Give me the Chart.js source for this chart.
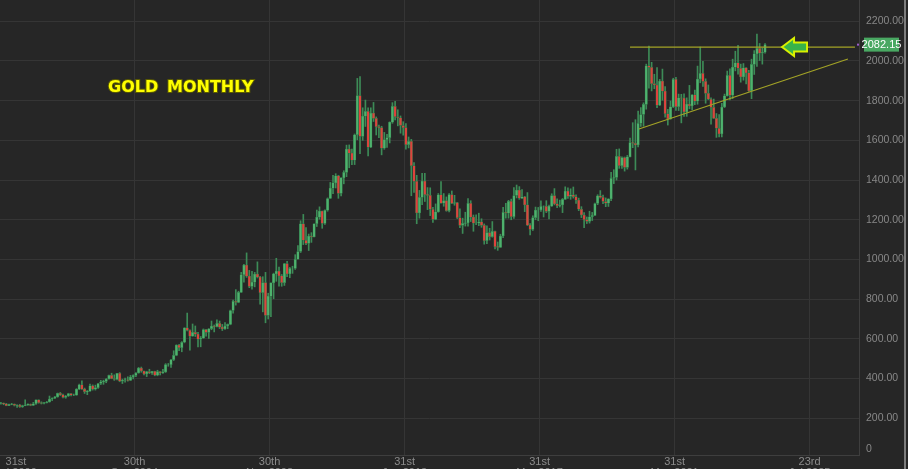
<!DOCTYPE html>
<html lang="en">
<head>
  <meta charset="UTF-8">
  <title>Gold Monthly</title>
  <script src="https://cdn.jsdelivr.net/npm/chart.js"></script>
  <style>
    html, body { margin: 0; padding: 0; background: #262626; overflow: hidden; }
    canvas { display: block; }
  </style>
</head>
<body>
  <canvas id="goldChart" width="908" height="469"></canvas>
  <script>
    // monthly candles, Jul 2000 .. Mar 2024
    const firstYear = 2000, firstMonth = 7;
    const opens = [
      288,276,277,273,264,270,
      272,265,267,258,264,267,270,265,273,293,279,275,
      279,282,297,302,308,326,318,305,312,324,317,317,
      347,368,347,334,337,364,346,354,375,384,386,398,
      416,400,396,427,387,393,394,391,408,416,428,453,
      438,423,435,428,436,417,435,429,433,470,470,495,
      517,569,556,583,655,643,613,633,624,599,604,647,
      632,651,665,662,678,659,650,665,673,743,789,783,
      834,923,972,916,864,886,926,911,833,884,718,815,
      882,927,942,917,883,979,927,955,955,1001,1040,1180,
      1097,1081,1118,1113,1180,1213,1244,1181,1248,1307,1359,1386,
      1421,1333,1411,1439,1556,1536,1500,1628,1826,1620,1722,1746,
      1566,1737,1711,1669,1664,1561,1604,1614,1692,1772,1719,1714,
      1675,1664,1578,1595,1472,1393,1234,1313,1395,1327,1323,1253,
      1202,1240,1326,1284,1296,1246,1327,1282,1287,1210,1171,1182,
      1184,1283,1213,1183,1183,1190,1172,1095,1135,1115,1142,1065,
      1061,1118,1238,1233,1293,1215,1322,1350,1309,1316,1275,1173,
      1151,1211,1249,1249,1268,1268,1242,1269,1322,1280,1271,1275,
      1303,1345,1318,1325,1316,1299,1253,1224,1201,1192,1215,1222,
      1282,1321,1313,1292,1284,1305,1409,1413,1520,1472,1513,1464,
      1517,1589,1585,1577,1686,1730,1781,1975,1968,1886,1879,1777,
      1898,1848,1734,1708,1769,1907,1770,1814,1813,1743,1783,1774,
      1829,1797,1909,1937,1897,1837,1807,1766,1711,1661,1633,1768,
      1824,1928,1827,1969,1990,1963,1919,1965,1940,1849,1983,2036,
      2063,2039,2044
    ];
    const highs = [
      292,280,277,275,272,275,
      272,268,270,266,293,273,272,280,293,293,283,280,
      285,312,303,310,327,330,322,315,326,324,322,349,
      372,389,352,340,372,368,367,376,391,392,400,417,
      427,419,427,430,397,403,409,416,419,430,456,458,
      438,437,447,437,437,442,435,447,475,476,497,540,
      570,572,586,656,730,645,675,665,633,612,650,648,
      652,690,670,696,690,673,682,675,745,795,848,840,
      935,976,1033,945,940,935,988,915,913,935,830,882,
      931,1006,962,924,980,990,960,966,1024,1070,1195,1227,
      1161,1128,1135,1180,1249,1265,1244,1250,1310,1388,1424,1432,
      1424,1412,1447,1576,1577,1556,1632,1912,1921,1764,1803,1764,
      1764,1791,1718,1677,1671,1640,1630,1693,1790,1796,1754,1723,
      1694,1684,1617,1605,1488,1424,1348,1434,1434,1362,1361,1262,
      1280,1332,1392,1332,1315,1332,1345,1323,1288,1255,1208,1238,
      1307,1296,1224,1225,1233,1205,1179,1170,1157,1191,1143,1088,
      1127,1263,1283,1298,1304,1362,1375,1367,1352,1318,1337,1181,
      1220,1264,1262,1295,1270,1296,1274,1331,1357,1306,1299,1307,
      1366,1361,1356,1365,1326,1309,1266,1236,1214,1243,1237,1284,
      1326,1347,1324,1310,1306,1439,1452,1555,1557,1517,1516,1524,
      1611,1689,1704,1748,1765,1789,1984,2075,1993,1933,1966,1907,
      1959,1871,1756,1798,1913,1917,1833,1832,1834,1814,1877,1831,
      1853,1974,2070,1998,1910,1879,1814,1808,1735,1730,1786,1833,
      1949,1960,2009,2049,2079,1984,1987,1966,1953,2009,2052,2135,
      2088,2065,2088
    ];
    const lows = [
      276,271,268,263,263,268,
      262,255,255,255,263,265,263,264,270,276,272,272,
      277,281,289,299,306,315,302,301,310,313,314,316,
      344,345,325,319,335,342,342,350,370,371,379,397,
      399,391,393,384,375,382,387,390,398,410,427,432,
      419,410,425,421,414,414,418,426,431,462,456,491,
      515,540,535,580,640,543,613,612,560,560,603,613,
      602,646,635,660,652,642,648,651,671,729,770,782,
      834,885,910,858,850,862,907,775,736,681,700,712,
      802,890,866,865,869,913,908,930,950,1001,1035,1075,
      1075,1045,1086,1113,1166,1203,1157,1176,1243,1307,1331,1360,
      1308,1320,1381,1417,1462,1478,1478,1603,1533,1600,1670,1522,
      1563,1695,1627,1613,1527,1555,1564,1587,1686,1703,1673,1636,
      1626,1555,1562,1321,1338,1180,1208,1276,1292,1251,1221,1187,
      1200,1238,1283,1268,1243,1240,1281,1273,1206,1160,1131,1168,
      1168,1191,1142,1175,1170,1162,1077,1080,1098,1112,1053,1046,
      1061,1110,1208,1208,1200,1207,1310,1303,1306,1241,1171,1123,
      1146,1200,1195,1242,1214,1236,1204,1267,1275,1261,1264,1236,
      1302,1307,1303,1309,1282,1246,1211,1160,1181,1183,1196,1221,
      1276,1309,1281,1266,1267,1296,1382,1400,1459,1459,1445,1455,
      1517,1563,1451,1567,1670,1671,1757,1863,1849,1860,1764,1775,
      1802,1717,1677,1706,1765,1751,1750,1688,1721,1721,1759,1753,
      1780,1782,1890,1872,1787,1805,1681,1710,1615,1617,1617,1765,
      1823,1804,1810,1950,1933,1893,1903,1884,1846,1810,1932,1973,
      2002,1984,2039
    ];
    const closes = [
      276,277,273,264,270,272,
      265,267,258,264,267,270,265,273,293,279,275,279,
      282,297,302,308,326,318,305,312,324,317,317,347,
      368,347,334,337,364,346,354,375,384,386,398,416,
      400,396,427,387,393,394,391,408,416,428,453,438,
      423,435,428,436,417,435,429,433,470,470,495,517,
      569,556,583,655,643,613,633,624,599,604,647,632,
      651,665,662,678,659,650,665,673,743,789,783,834,
      923,972,916,864,886,926,911,833,884,718,815,882,
      927,942,917,883,979,927,955,955,1001,1040,1180,1097,
      1081,1118,1113,1180,1213,1244,1181,1248,1307,1359,1386,1421,
      1333,1411,1439,1556,1536,1500,1628,1826,1620,1722,1746,1566,
      1737,1711,1669,1664,1561,1604,1614,1692,1772,1719,1714,1675,
      1664,1578,1595,1472,1393,1234,1313,1395,1327,1323,1253,1202,
      1240,1326,1284,1296,1246,1327,1282,1287,1210,1171,1182,1184,
      1283,1213,1183,1183,1190,1172,1095,1135,1115,1142,1065,1061,
      1118,1238,1233,1293,1215,1322,1350,1309,1316,1275,1173,1151,
      1211,1249,1249,1268,1268,1242,1269,1322,1280,1271,1275,1303,
      1345,1318,1325,1316,1299,1253,1224,1201,1192,1215,1222,1282,
      1321,1313,1292,1284,1305,1409,1413,1520,1472,1513,1464,1517,
      1589,1585,1577,1686,1730,1781,1975,1968,1886,1879,1777,1898,
      1848,1734,1708,1769,1907,1770,1814,1813,1743,1783,1774,1829,
      1797,1909,1937,1897,1837,1807,1766,1711,1661,1633,1768,1824,
      1928,1827,1969,1990,1963,1919,1965,1940,1849,1983,2036,2063,
      2039,2044,2082.15
    ];
    const lastPrice = 2082.15;

    // x axis ticks (month index from Jan 2000) and their labels
    const tickPositions = [12.6, 56.5, 106.5, 156.5, 206.5, 256.5, 306.5];
    const tickLabels = [
      ['31st', 'Jul 2000'], ['30th', 'Sep 2004'], ['30th', 'Nov 2008'],
      ['31st', 'Jan 2013'], ['31st', 'Mar 2017'], ['31st', 'May 2021'],
      ['23rd', 'Jul 2025']
    ];
    const yTicks = [200, 400, 600, 800, 1000, 1200, 1400, 1600, 1800, 2000, 2200];

    // drawn trend lines (month index, price)
    const resistanceLine = [[240, 2070], [323.3, 2070]];
    const supportLine = [[243.3, 1657], [320.7, 2010]];
    const arrowPoint = [296.3, 2070];

    const xMin = 6.67, xMax = 324.8, yMin = 15, yMax = 2307;

    const startIdx = (firstYear - 2000) * 12 + (firstMonth - 1);
    const xs = closes.map((c, k) => startIdx + k);
    const isUp = closes.map((c, k) => c >= opens[k]);

    const wickData = xs.map((x, k) => ({ x: x, y: [lows[k], highs[k]] }));
    const bodyData = xs.map((x, k) => ({ x: x, y: [opens[k], closes[k]] }));

    const decorPlugin = {
      id: 'decor',
      beforeDraw(chart) {
        const ctx = chart.ctx;
        ctx.save();
        ctx.fillStyle = '#262626';
        ctx.fillRect(0, 0, chart.width, chart.height);
        ctx.restore();
      },
      afterDatasetsDraw(chart) {
        const ctx = chart.ctx;
        const xs_ = chart.scales.x, ys_ = chart.scales.y;
        // arrow pointing at the resistance line
        const ax = xs_.getPixelForValue(arrowPoint[0]);
        const ay = ys_.getPixelForValue(arrowPoint[1]);
        ctx.save();
        ctx.beginPath();
        ctx.moveTo(ax, ay);
        ctx.lineTo(ax + 12, ay - 9);
        ctx.lineTo(ax + 12, ay - 4.5);
        ctx.lineTo(ax + 25, ay - 4.5);
        ctx.lineTo(ax + 25, ay + 4.5);
        ctx.lineTo(ax + 12, ay + 4.5);
        ctx.lineTo(ax + 12, ay + 9);
        ctx.closePath();
        ctx.fillStyle = '#38b34a';
        ctx.fill();
        ctx.lineWidth = 2;
        ctx.strokeStyle = '#d8f000';
        ctx.lineJoin = 'miter';
        ctx.stroke();
        ctx.restore();

        // title
        ctx.save();
        ctx.font = 'bold 16px "DejaVu Sans"';
        ctx.textBaseline = 'middle';
        ctx.lineWidth = 2;
        ctx.strokeStyle = '#5c5c00';
        ctx.fillStyle = '#ffff00';
        ctx.strokeText('GOLD', 108, 88);
        ctx.fillText('GOLD', 108, 88);
        ctx.strokeText('MONTHLY', 167, 88);
        ctx.fillText('MONTHLY', 167, 88);
        ctx.restore();
      },
      afterDraw(chart) {
        const ctx = chart.ctx;
        const area = chart.chartArea;
        const py = chart.scales.y.getPixelForValue(lastPrice);
        ctx.save();
        ctx.fillStyle = '#9a5cc8';
        ctx.fillRect(area.right - 2, py - 1, 2, 2);
        ctx.fillStyle = '#49a862';
        ctx.fillRect(area.right + 5, py - 7, 35, 14);
        ctx.fillStyle = '#ffffff';
        ctx.font = '11px "Liberation Sans"';
        ctx.textAlign = 'center';
        ctx.textBaseline = 'middle';
        ctx.fillText(lastPrice.toFixed(2), area.right + 22.5, py + 0.5);
        // window edge strip on the right
        ctx.fillStyle = '#7d7d7d';
        ctx.fillRect(904, 0, 2, chart.height);
        ctx.restore();
      }
    };

    new Chart(document.getElementById('goldChart'), {
      type: 'bar',
      data: {
        datasets: [
          {
            type: 'line',
            label: 'Resistance',
            data: resistanceLine.map(p => ({ x: p[0], y: p[1] })),
            borderColor: '#a3a326',
            borderWidth: 1.2,
            pointRadius: 0,
            order: 0
          },
          {
            type: 'line',
            label: 'Support',
            data: supportLine.map(p => ({ x: p[0], y: p[1] })),
            borderColor: '#a3a326',
            borderWidth: 1.2,
            pointRadius: 0,
            order: 0
          },
          {
            label: 'Body',
            data: bodyData,
            backgroundColor: isUp.map(u => u ? '#4fb26e' : '#de433d'),
            borderColor: '#2f7446',
            borderWidth: 0.5,
            borderSkipped: false,
            barThickness: 2.5,
            grouped: false,
            order: 1
          },
          {
            label: 'Wick',
            data: wickData,
            backgroundColor: '#3d8b57',
            borderWidth: 0,
            barThickness: 1,
            grouped: false,
            order: 2
          }
        ]
      },
      options: {
        responsive: false,
        animation: false,
        events: [],
        layout: { padding: 0 },
        plugins: {
          legend: { display: false },
          tooltip: { enabled: false }
        },
        scales: {
          x: {
            type: 'linear',
            min: xMin,
            max: xMax,
            offset: false,
            afterBuildTicks: (scale) => {
              scale.ticks = tickPositions.map(v => ({ value: v }));
            },
            afterFit: (scale) => {
              scale.height = 14;
              scale.paddingLeft = 0;
              scale.paddingRight = 0;
            },
            ticks: {
              autoSkip: false,
              maxRotation: 0,
              padding: 1,
              color: '#8c8c8c',
              font: { family: 'Liberation Sans', size: 11, lineHeight: 1.0 },
              callback: (v, i) => tickLabels[i]
            },
            grid: {
              offset: false,
              color: (c) => c.index === 0 ? 'rgba(0,0,0,0)' : '#353535',
              drawTicks: false
            },
            border: { color: '#3e3e3e' }
          },
          y: {
            position: 'right',
            min: yMin,
            max: yMax,
            afterBuildTicks: (scale) => {
              scale.ticks = [{ value: yMin + 30 }].concat(yTicks.map(v => ({ value: v })));
            },
            afterFit: (scale) => {
              scale.width = 49;
              scale.paddingTop = 0;
              scale.paddingBottom = 0;
            },
            ticks: {
              padding: 7,
              color: '#888888',
              font: { family: 'Liberation Sans', size: 10.5 },
              callback: (v) => v < 100 ? '0' : v.toFixed(2)
            },
            grid: {
              color: (c) => c.index === 0 ? 'rgba(0,0,0,0)' : '#353535',
              drawTicks: false
            },
            border: { color: '#3e3e3e' }
          }
        }
      },
      plugins: [decorPlugin]
    });
  </script>
</body>
</html>
